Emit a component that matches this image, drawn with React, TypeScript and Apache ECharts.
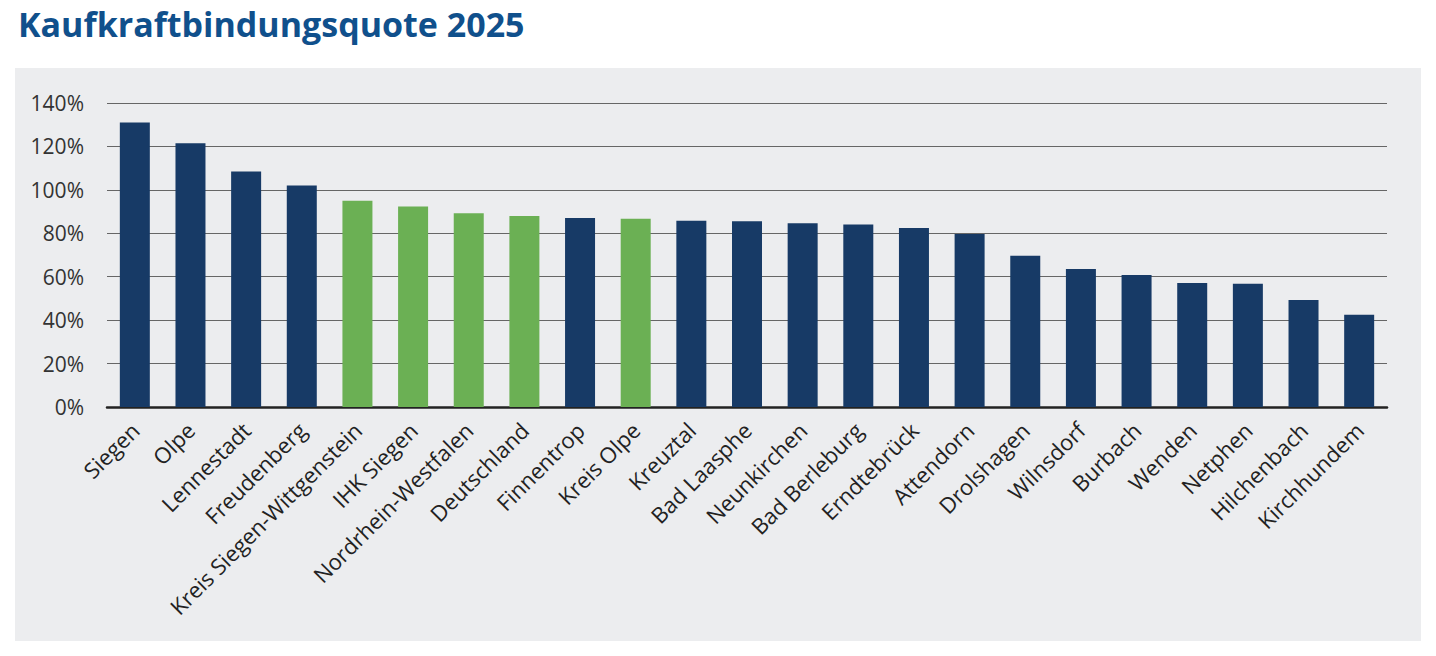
import React, { useEffect, useRef } from "react";
import * as echarts from "echarts";

const categories = [
  "Siegen", "Olpe", "Lennestadt", "Freudenberg", "Kreis Siegen-Wittgenstein",
  "IHK Siegen", "Nordrhein-Westfalen", "Deutschland", "Finnentrop", "Kreis Olpe",
  "Kreuztal", "Bad Laasphe", "Neunkirchen", "Bad Berleburg", "Erndtebrück",
  "Attendorn", "Drolshagen", "Wilnsdorf", "Burbach", "Wenden", "Netphen",
  "Hilchenbach", "Kirchhundem",
];
const values = [
  131, 121.5, 108.5, 102, 95, 92.3, 89.2, 88, 87, 86.7, 85.8, 85.5, 84.6, 84.1,
  82.4, 79.7, 69.7, 63.6, 60.8, 57.1, 56.8, 49.3, 42.5,
];
const highlighted = [
  "Kreis Siegen-Wittgenstein", "IHK Siegen", "Nordrhein-Westfalen", "Deutschland", "Kreis Olpe",
];
const yTicks = [0, 20, 40, 60, 80, 100, 120, 140];

const DARK = "#173a66";
const GREEN = "#6bb054";
const FONT = "'Open Sans', 'Noto Sans', sans-serif";

export default function App() {
  const ref = useRef<HTMLDivElement>(null);
  useEffect(() => {
    if (!ref.current) return;
    const chart = echarts.init(ref.current, null, { renderer: "svg" });
    chart.setOption({
      animation: false,
      backgroundColor: "transparent",
      title: {
        text: "Kaufkraftbindungsquote 2025",
        left: 13,
        top: 2,
        textStyle: {
          color: "#10508c",
          fontSize: 34,
          fontWeight: "bold",
          fontFamily: FONT,
        },
      },
      grid: { left: 107, right: 49, top: 103, bottom: 249, containLabel: false },
      xAxis: {
        type: "category",
        data: categories,
        axisTick: { show: false },
        axisLine: { show: true, lineStyle: { color: "#222", width: 2.5 } },
        axisLabel: {
          rotate: 45,
          interval: 0,
          margin: 19,
          color: "#222",
          fontSize: 22,
          fontFamily: FONT,
        },
      },
      yAxis: {
        type: "value",
        min: yTicks[0],
        max: yTicks[yTicks.length - 1],
        interval: 20,
        axisLine: { show: false },
        axisTick: { show: false },
        axisLabel: {
          formatter: (v: number) => v + "%",
          color: "#333",
          fontSize: 21,
          margin: 23,
          fontFamily: FONT,
        },
        splitLine: { lineStyle: { color: "#666", width: 1 } },
      },
      series: [
        {
          type: "bar",
          barWidth: 30,
          data: categories.map((c, i) => ({
            value: values[i],
            itemStyle: { color: highlighted.includes(c) ? GREEN : DARK },
          })),
        },
      ],
    });
    return () => chart.dispose();
  }, []);
  return (
    <div style={{ position: "fixed", left: 0, top: 0, width: 1436, height: 656, background: "#fff" }}>
      <div
        style={{
          position: "absolute",
          left: 15,
          top: 68,
          width: 1406,
          height: 573,
          background: "#ecedef",
        }}
      />
      <div ref={ref} style={{ position: "absolute", left: 0, top: 0, width: 1436, height: 656 }} />
    </div>
  );
}
